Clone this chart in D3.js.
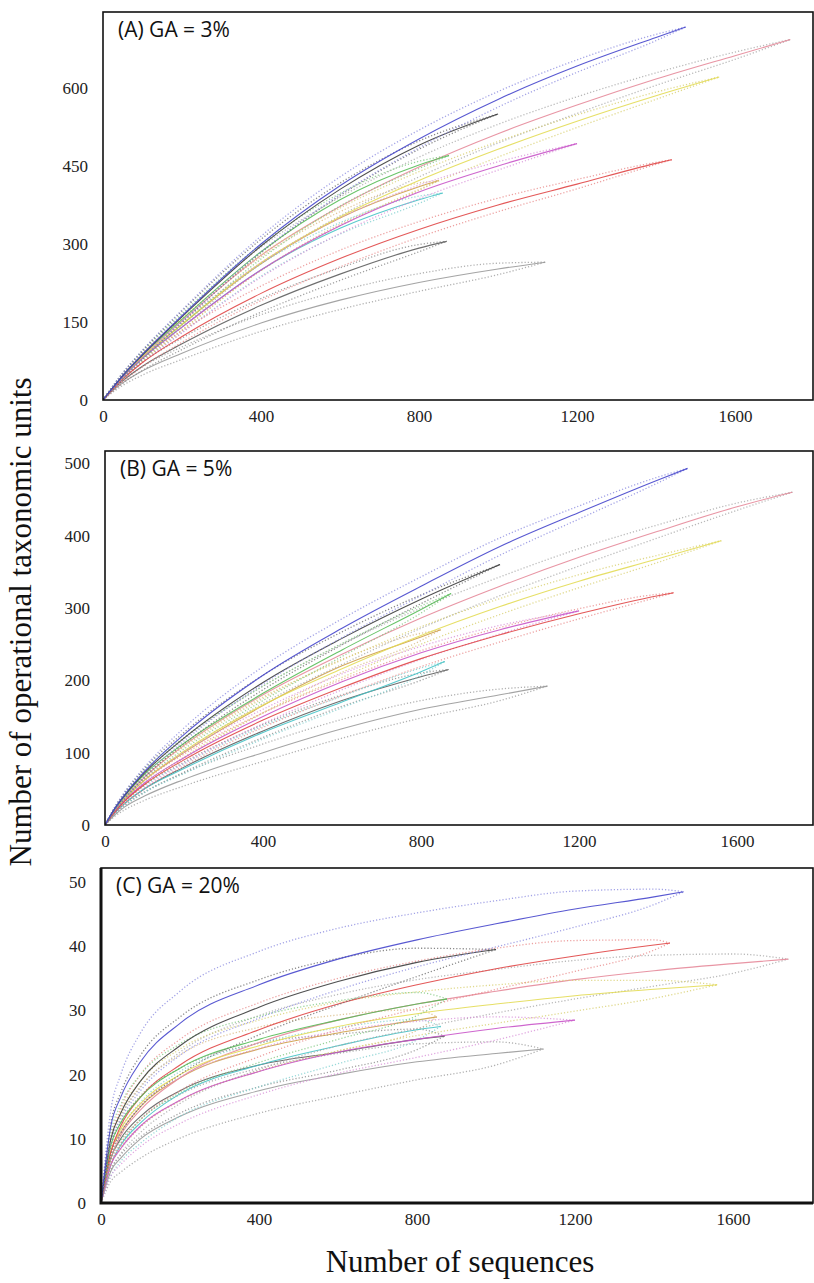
<!DOCTYPE html>
<html>
<head>
<meta charset="utf-8">
<script src="https://cdn.jsdelivr.net/npm/d3@7"></script>
<style>
  html, body { margin: 0; padding: 0; background: #fff; }
  svg { display: block; }
</style>
</head>
<body>
<svg id="chart" width="814" height="1283"></svg>
<script>
// Rarefaction curves: OTUs vs. number of sequences for eleven samples,
// at three genetic-distance cut-offs (3%, 5%, 20%).

// sequencing depth (last point of each curve)
const sampleDepth = [1475, 1000, 1740, 1560, 876, 1200, 1440, 860, 870, 1120, 850];
// rarefaction steps shared by all curves (values listed below are at these steps,
// followed by the value at the sample's full depth)
const seqSteps = [0, 25, 50, 100, 200, 400, 600, 800, 1000, 1200, 1400, 1600];

const xTicks = [0, 400, 800, 1200, 1600];
const yTicksA = [0, 150, 300, 450, 600];
const yTicksB = [0, 100, 200, 300, 400, 500];
const yTicksC = [0, 10, 20, 30, 40, 50];

const panelTitles = ["(A) GA = 3%", "(B) GA = 5%", "(C) GA = 20%"];

// mean OTU counts, GA = 3%
const otuA = [
  [0, 24, 47, 88, 162, 300, 412, 502, 578, 642, 697, 717],
  [0, 24, 47, 87, 160, 296, 405, 490, 550],
  [0, 23, 45, 84, 152, 278, 372, 448, 512, 567, 617, 662, 693],
  [0, 23, 44, 82, 146, 264, 352, 422, 482, 536, 585, 621],
  [0, 24, 46, 86, 155, 285, 385, 452, 470],
  [0, 23, 44, 80, 140, 250, 335, 400, 450, 493],
  [0, 21, 40, 72, 122, 205, 272, 328, 375, 415, 455, 462],
  [0, 23, 44, 80, 140, 250, 330, 385, 398],
  [0, 20, 37, 65, 108, 182, 242, 292, 305],
  [0, 18, 33, 56, 90, 148, 192, 226, 252, 265],
  [0, 23, 45, 82, 145, 262, 350, 410, 422]
];
// 95% confidence half-widths, GA = 3%
const ciA = [
  [0, 3, 5, 8, 11, 15, 17, 17, 15, 12, 6, 0],
  [0, 3, 5, 8, 11, 13, 12, 8, 0],
  [0, 3, 5, 8, 12, 16, 18, 19, 18, 16, 12, 7, 0],
  [0, 3, 5, 8, 11, 15, 17, 17, 15, 12, 7, 0],
  [0, 3, 5, 8, 11, 14, 12, 7, 0],
  [0, 3, 5, 8, 11, 14, 15, 13, 8, 0],
  [0, 3, 5, 8, 11, 14, 16, 15, 13, 9, 2, 0],
  [0, 3, 5, 7, 10, 12, 11, 7, 0],
  [0, 3, 5, 8, 11, 13, 12, 7, 0],
  [0, 3, 5, 8, 12, 16, 18, 17, 11, 0],
  [0, 3, 5, 8, 11, 13, 12, 7, 0]
];

// mean OTU counts, GA = 5%
const otuB = [
  [0, 23, 42, 74, 125, 207, 272, 330, 385, 432, 477, 493],
  [0, 23, 41, 72, 120, 197, 258, 312, 360],
  [0, 21, 38, 66, 110, 180, 236, 286, 330, 370, 406, 440, 460],
  [0, 20, 36, 62, 102, 166, 216, 262, 302, 337, 368, 393],
  [0, 22, 40, 70, 113, 182, 242, 298, 320],
  [0, 19, 34, 58, 93, 150, 198, 238, 270, 296],
  [0, 18, 33, 56, 90, 145, 190, 230, 263, 292, 317, 321],
  [0, 17, 30, 50, 78, 128, 170, 212, 226],
  [0, 17, 30, 50, 80, 130, 172, 205, 215],
  [0, 14, 25, 40, 63, 100, 133, 160, 180, 192],
  [0, 20, 36, 62, 100, 165, 220, 260, 270]
];
const ciB = [
  [0, 2, 4, 6, 9, 12, 13, 13, 12, 9, 4, 0],
  [0, 2, 4, 6, 8, 10, 9, 6, 0],
  [0, 2, 4, 6, 9, 12, 14, 14, 13, 12, 9, 5, 0],
  [0, 2, 4, 6, 8, 11, 12, 12, 11, 9, 5, 0],
  [0, 2, 4, 6, 8, 10, 9, 5, 0],
  [0, 2, 4, 6, 8, 10, 11, 9, 6, 0],
  [0, 2, 4, 6, 8, 10, 11, 11, 10, 7, 2, 0],
  [0, 2, 3, 5, 7, 9, 8, 5, 0],
  [0, 2, 3, 5, 7, 9, 8, 5, 0],
  [0, 2, 4, 6, 9, 12, 13, 12, 8, 0],
  [0, 2, 4, 6, 8, 10, 9, 5, 0]
];

// mean OTU counts, GA = 20%
const otuC = [
  [0, 12, 16.5, 22, 28, 34, 38, 41, 43.5, 45.8, 47.7, 48.5],
  [0, 10, 14, 19, 24.5, 30.5, 34.5, 37.5, 39.5],
  [0, 7, 10.5, 14.5, 19.5, 25, 28.5, 31, 33, 34.8, 36.2, 37.3, 38],
  [0, 8, 11.5, 15.5, 20, 24.5, 27.5, 29.5, 31, 32.3, 33.3, 34],
  [0, 9, 12.5, 16.5, 21, 25.5, 28.5, 31, 31.8],
  [0, 6, 8.5, 12, 16, 20.5, 23.5, 25.5, 27.2, 28.5],
  [0, 8, 12, 16.5, 21.5, 27, 31, 34, 36.5, 38.5, 40.2, 40.5],
  [0, 6, 9, 12.5, 17, 21.5, 24.5, 27, 27.5],
  [0, 7, 10, 13.5, 17.5, 21.5, 23.5, 25.5, 26],
  [0, 5, 7, 10, 13.5, 17.5, 20, 22, 23.3, 24],
  [0, 8, 11, 15, 19.5, 24, 26.5, 28.5, 29]
];
const ciC = [
  [0, 2.5, 3.5, 4.5, 5, 5.2, 4.8, 4.2, 3.6, 2.8, 1.2, 0],
  [0, 2.5, 3.2, 4, 4.5, 4.3, 3.6, 2.2, 0],
  [0, 2, 2.8, 3.5, 4, 4.2, 4, 3.8, 3.4, 3, 2.4, 1.5, 0],
  [0, 2, 2.8, 3.5, 4, 4, 3.8, 3.4, 3, 2.4, 1.4, 0],
  [0, 2, 2.8, 3.5, 3.8, 3.6, 3, 1.8, 0],
  [0, 1.8, 2.5, 3.2, 3.6, 3.6, 3.3, 2.8, 1.8, 0],
  [0, 2, 2.8, 3.5, 4, 4.2, 4, 3.7, 3.2, 2.4, 0.8, 0],
  [0, 1.8, 2.5, 3.2, 3.5, 3.4, 2.8, 1.6, 0],
  [0, 1.8, 2.5, 3.2, 3.5, 3.4, 2.8, 1.6, 0],
  [0, 1.6, 2.2, 3, 3.4, 3.5, 3.3, 2.8, 1.8, 0],
  [0, 2, 2.6, 3.2, 3.6, 3.4, 2.8, 1.6, 0]
];

// line colours (mean curve) and dotted confidence-band colours
const lineColors = ["#4646cc", "#3c3c3c", "#e58a9a", "#e3dc55", "#58bd58", "#c955c9",
                    "#e04646", "#46c3c6", "#5e5e5e", "#9a9a9a", "#cfa04a"];
const bandColors = ["#8c8ce0", "#6a6a6a", "#a8a8a8", "#d8d070", "#80c880", "#d890d8",
                    "#e88a8a", "#80d0d0", "#8a8a8a", "#9c9c9c", "#d8b880"];
// drawing order, light/grey curves first so coloured ones sit on top
const drawOrder = [9, 8, 10, 7, 2, 3, 5, 6, 4, 1, 0];

const svg = d3.select("#chart");

const panels = [
  { title: panelTitles[0], otu: otuA, ci: ciA, yTicks: yTicksA, yMax: 746,
    left: 103, right: 813, top: 12, bottom: 400, heavy: false },
  { title: panelTitles[1], otu: otuB, ci: ciB, yTicks: yTicksB, yMax: 517,
    left: 105, right: 813, top: 451, bottom: 825, heavy: false },
  { title: panelTitles[2], otu: otuC, ci: ciC, yTicks: yTicksC, yMax: 52.2,
    left: 101, right: 813, top: 868, bottom: 1203, heavy: true }
];

function seriesPoints(i, values) {
  const depth = sampleDepth[i];
  const xs = seqSteps.filter(n => n < depth).concat([depth]);
  return xs.map((n, k) => ({ n, v: values[k] }));
}

const serif = "'Liberation Serif', 'Times New Roman', serif";

panels.forEach(p => {
  const x = d3.scaleLinear().domain([0, 1800]).range([p.left, p.left + 711]);
  const y = d3.scaleLinear().domain([0, p.yMax]).range([p.bottom, p.top]);
  const g = svg.append("g");

  const clipId = "clip" + p.top;
  g.append("clipPath").attr("id", clipId)
    .append("rect").attr("x", p.left).attr("y", p.top)
    .attr("width", p.right - p.left).attr("height", p.bottom - p.top);

  const plot = g.append("g").attr("clip-path", `url(#${clipId})`);
  const line = d3.line().x(d => x(d.n)).y(d => y(d.v)).curve(d3.curveMonotoneX);

  drawOrder.forEach(i => {
    const mean = seriesPoints(i, p.otu[i]);
    const hw = p.ci[i];
    const upper = mean.map((d, k) => ({ n: d.n, v: d.v + hw[k] }));
    const lower = mean.map((d, k) => ({ n: d.n, v: Math.max(0, d.v - hw[k]) }));
    [upper, lower].forEach(b => {
      plot.append("path").datum(b)
        .attr("d", line)
        .attr("fill", "none")
        .attr("stroke", bandColors[i])
        .attr("stroke-width", 1.3)
        .attr("stroke-dasharray", "1.2,2")
        .attr("opacity", 0.8);
    });
    plot.append("path").datum(mean)
      .attr("d", line)
      .attr("fill", "none")
      .attr("stroke", lineColors[i])
      .attr("stroke-width", 1.1)
      .attr("opacity", 0.9);
  });

  // axes (labels only, no tick marks)
  const xAxis = d3.axisBottom(x).tickValues(xTicks).tickSize(0).tickPadding(10)
    .tickFormat(d3.format("d"));
  g.append("g").attr("transform", `translate(0,${p.bottom})`).call(xAxis)
    .call(s => s.select(".domain").remove())
    .selectAll("text")
    .attr("font-family", serif)
    .attr("font-size", 17).attr("fill", "#222");

  const yAxis = d3.axisLeft(y).tickValues(p.yTicks).tickSize(0).tickPadding(15)
    .tickFormat(d3.format("d"));
  g.append("g").attr("transform", `translate(${p.left},0)`).call(yAxis)
    .call(s => s.select(".domain").remove())
    .selectAll("text")
    .attr("font-family", serif)
    .attr("font-size", 17).attr("fill", "#222");

  // panel frame; the last panel has heavier left and bottom edges
  g.append("rect")
    .attr("x", p.left).attr("y", p.top)
    .attr("width", p.right - p.left).attr("height", p.bottom - p.top)
    .attr("fill", "none").attr("stroke", "#111").attr("stroke-width", 1.6);
  if (p.heavy) {
    g.append("path")
      .attr("d", `M${p.left},${p.top}V${p.bottom}H${p.right}`)
      .attr("fill", "none").attr("stroke", "#111").attr("stroke-width", 3);
  }

  g.append("text")
    .attr("x", p.left + 15).attr("y", p.top + 25)
    .attr("font-family", "'Open Sans', 'Liberation Sans', sans-serif")
    .attr("font-size", 21).attr("fill", "#111")
    .text(p.title);
});

// shared axis titles
svg.append("text")
  .attr("transform", "translate(31,622) rotate(-90)")
  .attr("text-anchor", "middle")
  .attr("font-family", serif)
  .attr("font-size", 31).attr("fill", "#111")
  .text("Number of operational taxonomic units");

svg.append("text")
  .attr("x", 460).attr("y", 1272)
  .attr("text-anchor", "middle")
  .attr("font-family", serif)
  .attr("font-size", 31).attr("fill", "#111")
  .text("Number of sequences");
</script>
</body>
</html>
